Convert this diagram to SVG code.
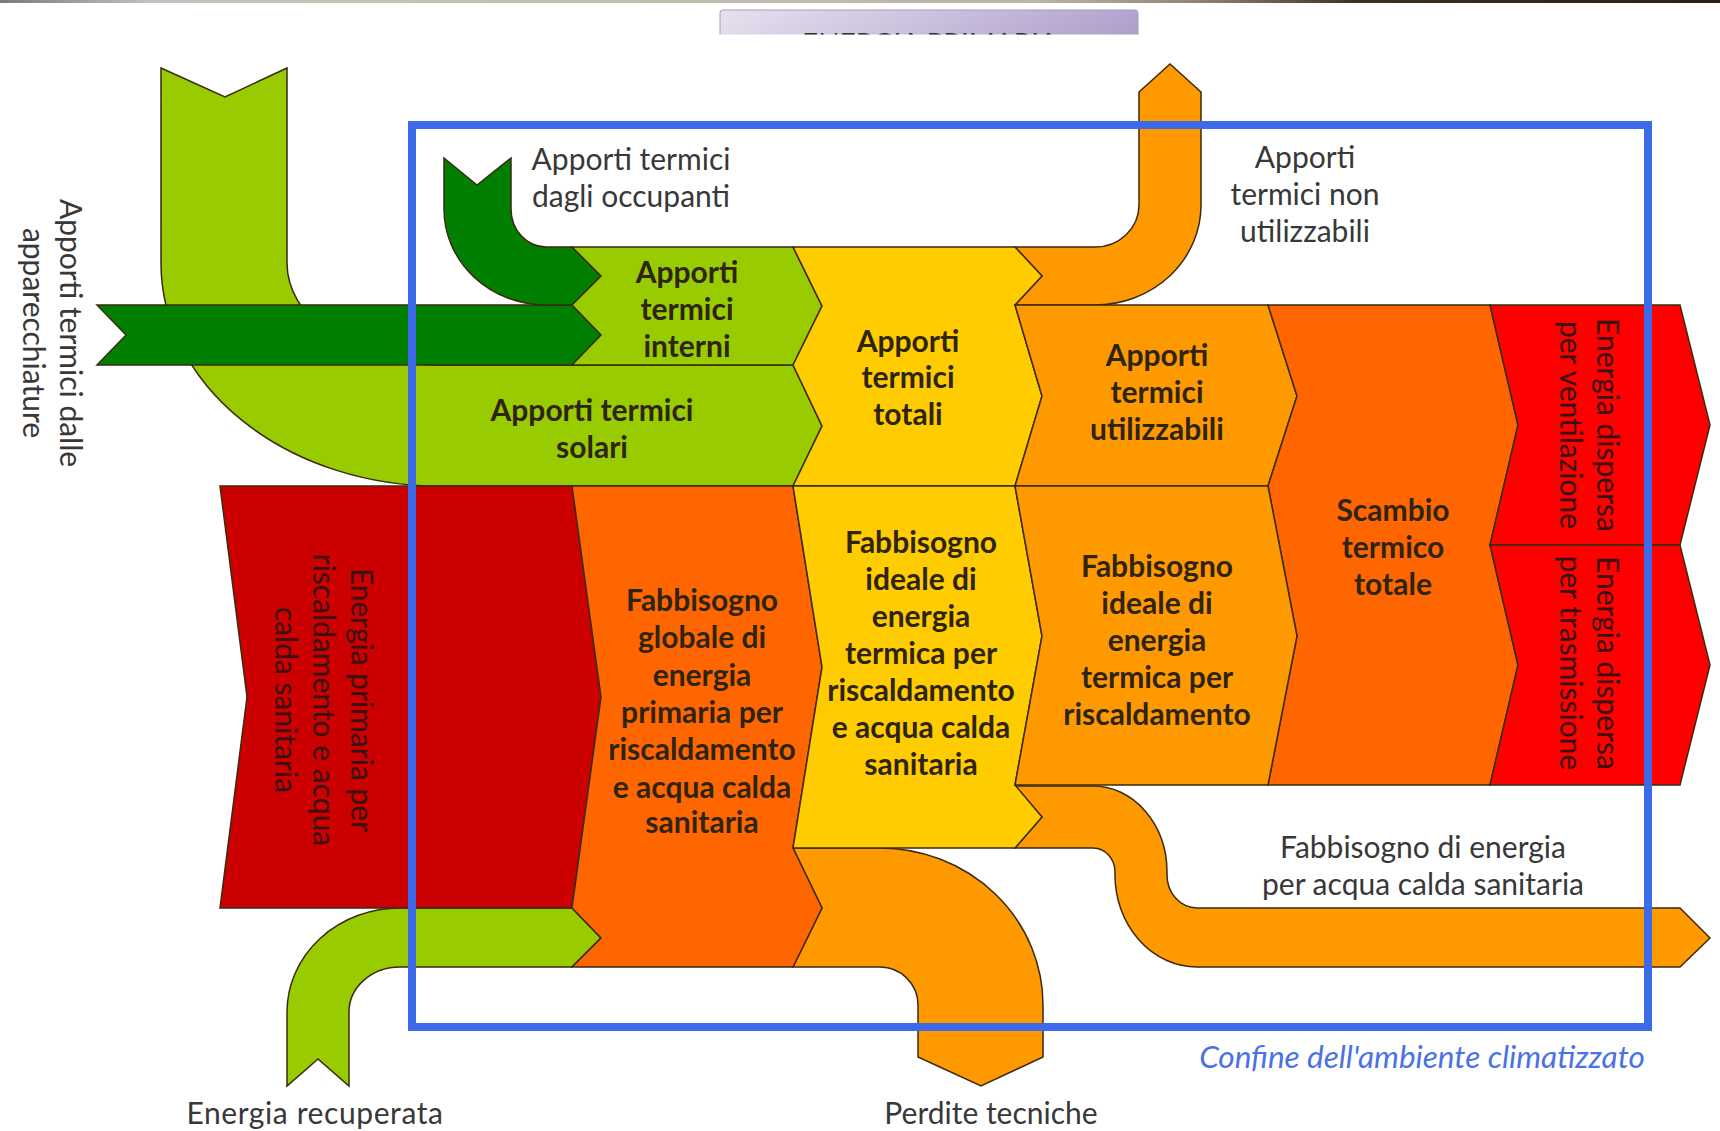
<svg xmlns="http://www.w3.org/2000/svg" width="1720" height="1131" viewBox="0 0 1720 1131">
<defs>
<linearGradient id="bar" x1="0" y1="0" x2="1" y2="0">
<stop offset="0" stop-color="#7a7a78"/><stop offset="0.09" stop-color="#c6c4bc"/><stop offset="0.6" stop-color="#beb7a5"/><stop offset="0.7" stop-color="#8e8170"/><stop offset="0.79" stop-color="#3c3024"/><stop offset="1" stop-color="#2a2018"/>
</linearGradient>
<linearGradient id="tab" x1="0" y1="0" x2="1" y2="0.3">
<stop offset="0" stop-color="#e6e2ef"/><stop offset="1" stop-color="#b09fcc"/>
</linearGradient>
<clipPath id="tabclip"><rect x="700" y="0" width="480" height="34.5"/></clipPath>
<style>
.sh{stroke:#3a2a10;stroke-width:1.5;stroke-linejoin:miter}
.lg{fill:#99cc00}.dg{fill:#007f00}.ye{fill:#ffcc00}.lo{fill:#ff9900}.do{fill:#ff6600}.dr{fill:#cc0000}.rd{fill:#ff0000}
text{font-family:Lato,"Liberation Sans",sans-serif;font-size:30px;text-anchor:middle}
.t{fill:#383838}
.b{fill:#2e2410;font-weight:bold}
.r{fill:#3a1010}
.conf{fill:#4a72e6;font-style:italic;font-size:31.5px}
.sp{letter-spacing:0.6px}
</style>
</defs>
<rect x="0" y="0" width="1720" height="1131" fill="#ffffff"/>
<rect x="0" y="0" width="1720" height="3" fill="url(#bar)"/>
<g id="tab-energia-primaria" clip-path="url(#tabclip)">
<rect x="720" y="10" width="418" height="60" rx="3" fill="url(#tab)" stroke="#a898c4" stroke-width="1"/>
<text x="930" y="54" style="font-size:28px;fill:#333">ENERGIA PRIMARIA</text>
</g>
<g id="connectors">
<g id="solari-flow"><path class="sh lg" d="M161,68 L225,97 L287,68 L287,263 A152,102 0 0 0 439,365 L793,365 L822,426 L793,486 L439,486 A278,223 0 0 1 161,263 Z"/></g>
<g id="apparecchiature-flow"><path class="sh dg" d="M97,305 L572,305 L601,335 L572,365 L97,365 L126,335 Z"/></g>
<g id="occupanti-flow"><path class="sh dg" d="M444,158 L477,185 L511,158 L511,209 A35,38 0 0 0 546,247 L572,247 L601,276 L572,305 L546,305 A102,96 0 0 1 444,209 Z"/></g>
<g id="non-utilizzabili-flow"><path class="sh lo" d="M1015,247 L1095,247 A44,42 0 0 0 1139,205 L1139,92 L1170,64 L1201,92 L1201,205 A106,100 0 0 1 1095,305 L1015,305 L1042,276 Z"/></g>
<g id="perdite-flow"><path class="sh lo" d="M793,848 L880,848 A163,157 0 0 1 1043,1005 L1043,1057 L981,1086 L918,1057 L918,1005 A38,38 0 0 0 880,967 L793,967 L822,908 Z"/></g>
<g id="acs-flow"><path class="sh lo" d="M1015,786 L1093,786 A74,86 0 0 1 1167,872 L1167,875 A30,33 0 0 0 1197,908 L1680,908 L1710,938 L1680,967 L1197,967 A82,92 0 0 1 1115,875 L1115,872 A22,24 0 0 0 1093,848 L1015,848 L1042,817 Z"/></g>
<g id="recuperata-flow"><path class="sh lg" d="M287,1086 L287,1012 A113,104 0 0 1 400,908 L572,908 L601,938 L572,967 L400,967 A51,45 0 0 0 349,1012 L349,1086 L318,1059 Z"/></g>
</g>
<g id="interni"><path class="sh lg" d="M572,247 L793,247 L822,306 L793,365 L572,365 L601,335 L572,305 L601,276 Z"/></g>
<g id="totali"><path class="sh ye" d="M793,247 L1015,247 L1042,276 L1015,305 L1042,396 L1015,486 L793,486 L822,426 L793,365 L822,306 Z"/></g>
<g id="utilizzabili"><path class="sh lo" d="M1015,305 L1268,305 L1297,396 L1268,486 L1015,486 L1042,396 Z"/></g>
<g id="scambio"><path class="sh do" d="M1268,305 L1490,305 L1518,425 L1490,545 L1518,665 L1490,785 L1268,785 L1297,636 L1268,486 L1297,396 Z"/></g>
<g id="ventilazione"><path class="sh rd" d="M1490,305 L1680,305 L1710,425 L1680,545 L1490,545 L1518,425 Z"/></g>
<g id="trasmissione"><path class="sh rd" d="M1490,545 L1680,545 L1710,665 L1680,785 L1490,785 L1518,665 Z"/></g>
<g id="primaria"><path class="sh dr" d="M220,486 L572,486 L601,697 L572,908 L220,908 L247,697 Z"/></g>
<g id="globale"><path class="sh do" d="M572,486 L793,486 L822,667 L793,848 L822,908 L793,967 L572,967 L601,938 L572,908 L601,697 Z"/></g>
<g id="ideale-hw"><path class="sh ye" d="M793,486 L1015,486 L1042,636 L1015,785 L1042,817 L1015,848 L793,848 L822,667 Z"/></g>
<g id="ideale-h"><path class="sh lo" d="M1015,486 L1268,486 L1297,636 L1268,785 L1015,785 L1042,636 Z"/></g>
<g id="labels">
<text class="t" x="631" y="170">Apporti termici</text>
<text class="t" x="631" y="207">dagli occupanti</text>
<text class="t" x="1305" y="168">Apporti</text>
<text class="t" x="1305" y="205">termici non</text>
<text class="t" x="1305" y="242">utilizzabili</text>
<g transform="translate(60,333) rotate(90)"><text class="t" x="0" y="0">Apporti termici dalle</text><text class="t" x="0" y="37">apparecchiature</text></g>
<text class="b" x="687" y="283">Apporti</text>
<text class="b" x="687" y="320">termici</text>
<text class="b" x="687" y="357">interni</text>
<text class="b" x="592" y="421">Apporti termici</text>
<text class="b" x="592" y="458">solari</text>
<text class="b" x="908" y="352">Apporti</text>
<text class="b" x="908" y="388">termici</text>
<text class="b" x="908" y="425">totali</text>
<text class="b" x="1157" y="366">Apporti</text>
<text class="b" x="1157" y="403">termici</text>
<text class="b" x="1157" y="440">utilizzabili</text>
<text class="b" x="1393" y="521">Scambio</text>
<text class="b" x="1393" y="558">termico</text>
<text class="b" x="1393" y="595">totale</text>
<g transform="translate(1597,425) rotate(90)"><text class="r" x="0" y="0">Energia dispersa</text><text class="r" x="0" y="37">per ventilazione</text></g>
<g transform="translate(1597,663) rotate(90)"><text class="r" x="0" y="0">Energia dispersa</text><text class="r" x="0" y="37">per trasmissione</text></g>
<g transform="translate(351,700) rotate(90)"><text class="r" x="0" y="0">Energia primaria per</text><text class="r" x="0" y="38">riscaldamento e acqua</text><text class="r" x="0" y="76">calda sanitaria</text></g>
<text class="b" x="702" y="611">Fabbisogno</text>
<text class="b" x="702" y="648">globale di</text>
<text class="b" x="702" y="686">energia</text>
<text class="b" x="702" y="723">primaria per</text>
<text class="b" x="702" y="760">riscaldamento</text>
<text class="b" x="702" y="798">e acqua calda</text>
<text class="b" x="702" y="833">sanitaria</text>
<text class="b" x="921" y="553">Fabbisogno</text>
<text class="b" x="921" y="590">ideale di</text>
<text class="b" x="921" y="627">energia</text>
<text class="b" x="921" y="664">termica per</text>
<text class="b" x="921" y="701">riscaldamento</text>
<text class="b" x="921" y="738">e acqua calda</text>
<text class="b" x="921" y="775">sanitaria</text>
<text class="b" x="1157" y="577">Fabbisogno</text>
<text class="b" x="1157" y="614">ideale di</text>
<text class="b" x="1157" y="651">energia</text>
<text class="b" x="1157" y="688">termica per</text>
<text class="b" x="1157" y="725">riscaldamento</text>
<text class="t" x="1423" y="858">Fabbisogno di energia</text>
<text class="t" x="1423" y="895">per acqua calda sanitaria</text>
<text class="t sp" x="315" y="1124">Energia recuperata</text>
<text class="t" x="991" y="1124">Perdite tecniche</text>
</g>
<g id="confine">
<rect x="412" y="125" width="1236" height="902" fill="none" stroke="#3d6ae8" stroke-width="8"/>
<text class="conf" x="1422" y="1068">Confine dell'ambiente climatizzato</text>
</g>
</svg>
